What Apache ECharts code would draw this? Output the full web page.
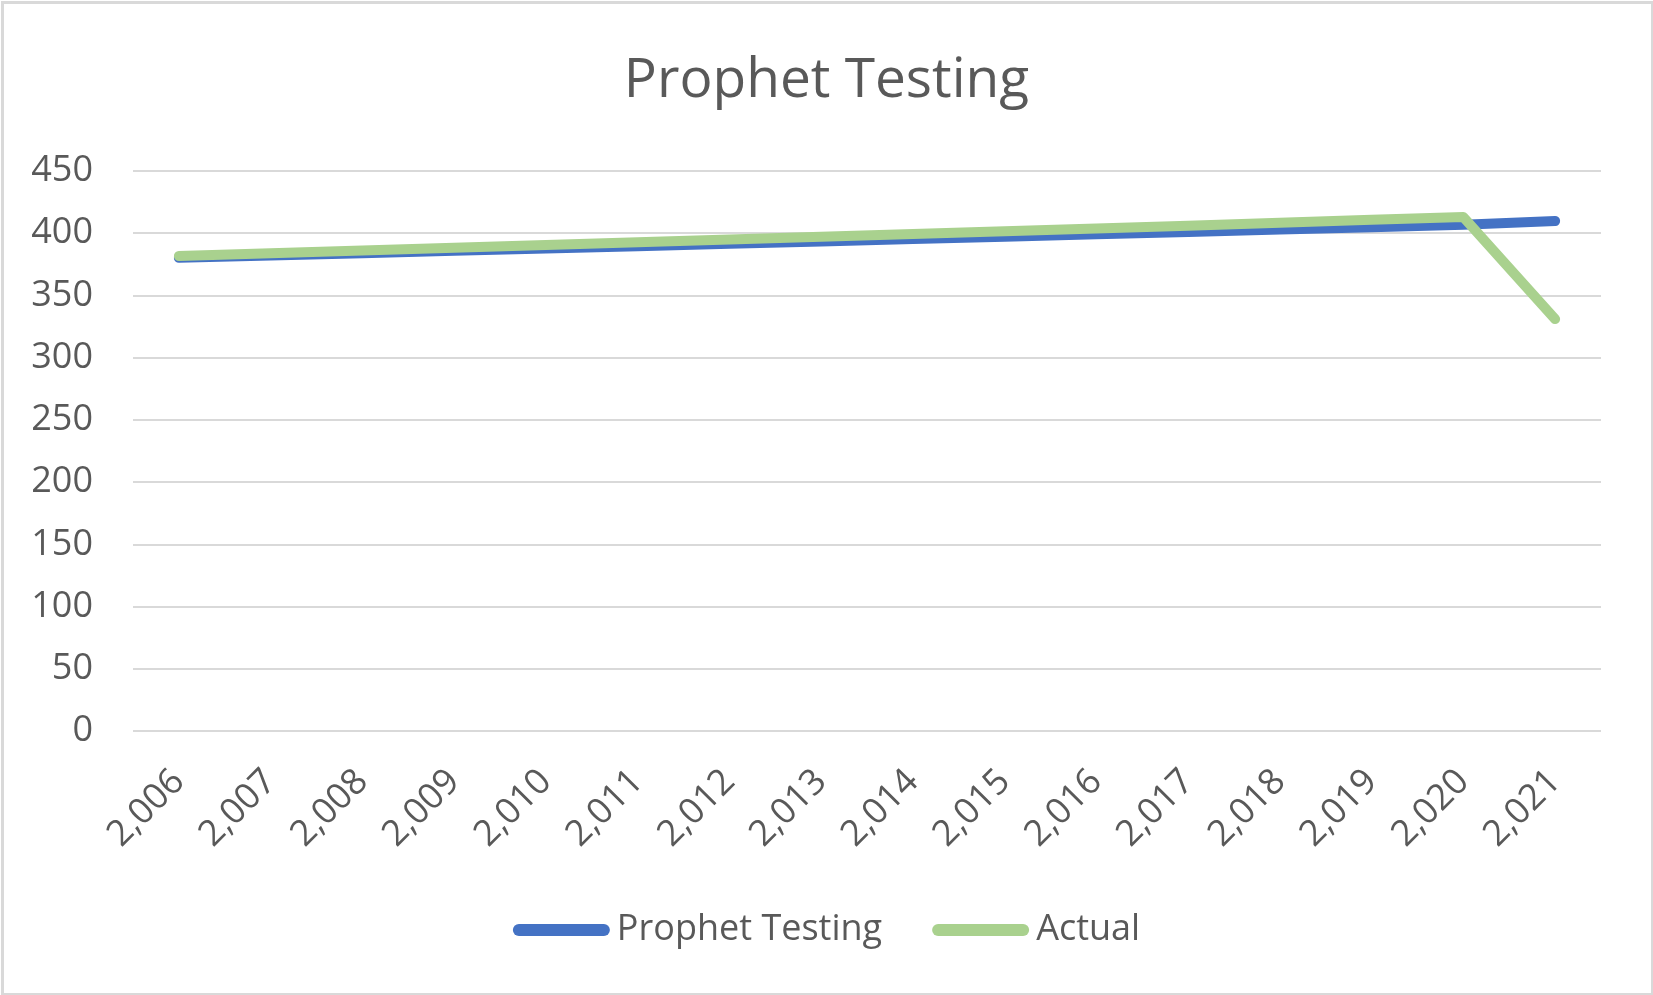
<!DOCTYPE html>
<html>
<head>
<meta charset="utf-8">
<script src="https://cdn.jsdelivr.net/npm/echarts@6/dist/echarts.min.js"></script>
<style>
html,body{margin:0;padding:0;background:#fff;}
#chart{width:1653px;height:995px;}
</style>
</head>
<body>
<div id="chart"></div>
<script>
var years = [2006, 2007, 2008, 2009, 2010, 2011, 2012, 2013, 2014, 2015, 2016, 2017, 2018, 2019, 2020, 2021];
var prophetTesting = [380.2, 382.1, 384.0, 385.9, 387.8, 389.6, 391.5, 393.4, 395.3, 397.2, 399.1, 401.0, 402.9, 404.8, 406.9, 409.8];
var actual = [381.7, 383.9, 386.1, 388.3, 390.5, 392.7, 395.0, 397.2, 399.3, 401.5, 403.7, 406.0, 408.5, 410.8, 413.0, 331.0];
var yTicks = [0, 50, 100, 150, 200, 250, 300, 350, 400, 450];

var FONT = '"Open Sans", "Noto Sans", sans-serif';
var TXT = '#595959';
var chart = echarts.init(document.getElementById('chart'), null, {renderer: 'canvas'});
var capsule = 'path://M6,0 L91,0 A6,6 0 0 1 91,12 L6,12 A6,6 0 0 1 6,0 Z';

chart.setOption({
  animation: false,
  backgroundColor: '#ffffff',
  textStyle: {fontFamily: FONT},
  graphic: [{
    type: 'rect', left: 0, top: 0, z: 100, silent: true,
    shape: {x: 1.5, y: 1.5, width: 1650, height: 992},
    style: {fill: 'none', stroke: '#D9D9D9', lineWidth: 3}
  }],
  title: {
    text: 'Prophet Testing',
    left: 'center',
    top: 49,
    textStyle: {fontFamily: FONT, fontSize: 55, fontWeight: 'normal', color: TXT}
  },
  legend: {
    bottom: 42,
    left: 'center',
    itemWidth: 97,
    itemHeight: 12,
    itemGap: 50,
    textStyle: {fontFamily: FONT, fontSize: 36, color: TXT, padding: [0, 0, 0, 2]},
    data: [
      {name: 'Prophet Testing', icon: capsule},
      {name: 'Actual', icon: capsule}
    ]
  },
  grid: {left: 133, right: 52, top: 171, bottom: 264, containLabel: false},
  xAxis: {
    type: 'category',
    data: years,
    boundaryGap: true,
    axisLine: {show: false},
    axisTick: {show: false},
    axisLabel: {
      rotate: 45,
      margin: 45,
      interval: 0,
      fontFamily: FONT,
      fontSize: 36,
      color: TXT,
      formatter: function (v) { return Number(v).toLocaleString('en-US'); }
    }
  },
  yAxis: {
    type: 'value',
    min: yTicks[0],
    max: yTicks[yTicks.length - 1],
    interval: yTicks[1] - yTicks[0],
    axisLine: {show: false},
    axisTick: {show: false},
    axisLabel: {margin: 40, fontFamily: FONT, fontSize: 36, color: TXT},
    splitLine: {lineStyle: {color: '#D9D9D9', width: 2}}
  },
  series: [
    {
      name: 'Prophet Testing',
      type: 'line',
      data: prophetTesting,
      symbol: 'none',
      color: '#4472C4',
      lineStyle: {width: 10, color: '#4472C4', cap: 'round', join: 'round'},
      z: 2
    },
    {
      name: 'Actual',
      type: 'line',
      data: actual,
      symbol: 'none',
      color: '#A9D18E',
      lineStyle: {width: 10, color: '#A9D18E', cap: 'round', join: 'round'},
      z: 3
    }
  ]
});
</script>
</body>
</html>
